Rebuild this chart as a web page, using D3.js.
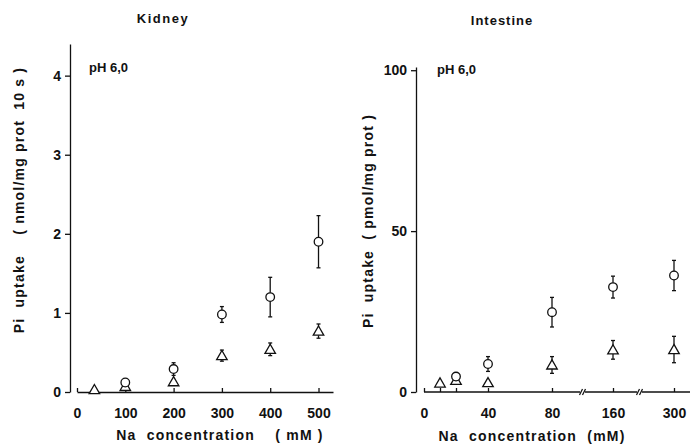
<!DOCTYPE html>
<html>
<head>
<script src="https://d3js.org/d3.v7.min.js"></script>
<style>
  body { margin: 0; background: #fff; }
  svg text { font-family: "Liberation Sans", Arial, sans-serif; font-weight: bold; fill: #111; white-space: pre; }
</style>
</head>
<body>
<svg id="chart" width="690" height="446"></svg>
<script>
// Kidney, pH 6.0  (nmol/mg prot 10 s)
const kidneyCircX = [100, 200, 300, 400, 500];
const kidneyCircY = [0.12, 0.29, 0.98, 1.20, 1.90];
const kidneyCircErr = [0.04, 0.08, 0.10, 0.25, 0.33];
const kidneyTriX = [36, 100, 200, 300, 400, 500];
const kidneyTriY = [0.03, 0.07, 0.13, 0.46, 0.54, 0.77];
const kidneyTriErr = [0, 0.03, 0, 0.07, 0.08, 0.09];
const kidneyXTicks = [0, 100, 200, 300, 400, 500];
const kidneyYTicks = [0, 1, 2, 3, 4];

// Intestine, pH 6.0  (pmol/mg prot)
const intCircX = [20, 40, 80, 160, 300];
const intCircY = [4.8, 8.7, 24.8, 32.6, 36.2];
const intCircErr = [1.0, 2.3, 4.6, 3.4, 4.7];
const intTriX = [10, 20, 40, 80, 160, 300];
const intTriY = [2.8, 3.6, 2.9, 8.4, 13.1, 13.2];
const intTriErr = [0.6, 1.0, 0, 2.6, 2.9, 4.1];
const intXTicks = [0, 10, 20, 40, 80, 160, 300];
const intXLabels = [0, 40, 80, 160, 300];
const intYTicks = [0, 50, 100];

const svg = d3.select('#chart');

function drawPoints(g, x, y, xs, ys, errs, kind) {
  const pts = xs.map((v, i) => ({x: v, y: ys[i], e: errs[i]}));
  const eb = g.append('g').attr('stroke', '#111').attr('stroke-width', 1.3);
  pts.filter(d => d.e > 0).forEach(d => {
    eb.append('line').attr('x1', x(d.x)).attr('x2', x(d.x)).attr('y1', y(d.y + d.e)).attr('y2', y(d.y - d.e));
    eb.append('line').attr('x1', x(d.x) - 2).attr('x2', x(d.x) + 2).attr('y1', y(d.y + d.e)).attr('y2', y(d.y + d.e));
    eb.append('line').attr('x1', x(d.x) - 2).attr('x2', x(d.x) + 2).attr('y1', y(d.y - d.e)).attr('y2', y(d.y - d.e));
  });
  if (kind === 'circle') {
    g.append('g').selectAll('circle').data(pts).join('circle')
      .attr('cx', d => x(d.x)).attr('cy', d => y(d.y)).attr('r', 4.3)
      .attr('fill', '#fff').attr('stroke', '#111').attr('stroke-width', 1.3);
  } else {
    g.append('g').selectAll('path').data(pts).join('path')
      .attr('d', d3.symbol(d3.symbolTriangle, 48))
      .attr('transform', d => `translate(${x(d.x)},${y(d.y) + 1})`)
      .attr('fill', '#fff').attr('stroke', '#111').attr('stroke-width', 1.3);
  }
}

function styleAxis(g) {
  g.selectAll('path, line').attr('stroke', '#111').attr('stroke-width', 1.3);
  g.selectAll('text').attr('font-size', 14).attr('fill', '#111')
    .attr('font-family', '"Liberation Sans", Arial, sans-serif').attr('font-weight', 'bold');
}

// ---------- Kidney ----------
{
  const x = d3.scaleLinear().domain([0, 530]).range([77, 333]);
  const y = d3.scaleLinear().domain([0, 4.4]).range([392, 44]);
  const g = svg.append('g');

  g.append('g').attr('transform', 'translate(70,0)')
    .call(d3.axisLeft(y).tickValues(kidneyYTicks).tickSizeInner(5).tickSizeOuter(0).tickPadding(4).tickFormat(d3.format('d')))
    .call(styleAxis);

  g.append('g').attr('transform', 'translate(0,392)')
    .call(d3.axisBottom(x).tickValues(kidneyXTicks).tickSizeInner(-4).tickSizeOuter(0).tickPadding(16))
    .call(styleAxis);

  drawPoints(g, x, y, kidneyTriX, kidneyTriY, kidneyTriErr, 'triangle');
  drawPoints(g, x, y, kidneyCircX, kidneyCircY, kidneyCircErr, 'circle');

  g.append('text').attr('x', 163).attr('y', 23).attr('text-anchor', 'middle')
    .attr('font-size', 13).attr('letter-spacing', 1.5).text('Kidney');
  g.append('text').attr('x', 89).attr('y', 72).attr('font-size', 13).text('pH 6,0');
  g.append('text').attr('transform', 'translate(24,200) rotate(-90)').attr('text-anchor', 'middle')
    .attr('font-size', 14).attr('letter-spacing', 1.2).text('Pi  uptake    ( nmol/mg prot  10 s )');
  g.append('text').attr('x', 220).attr('y', 440).attr('text-anchor', 'middle')
    .attr('font-size', 14).attr('letter-spacing', 1.2).text('Na  concentration    ( mM )');
}

// ---------- Intestine ----------
{
  // piecewise scale with axis breaks between 80-160 and 160-300
  const x = d3.scaleLinear().domain([0, 80, 160, 300, 345]).range([424, 552, 613, 674, 690]);
  const y = d3.scaleLinear().domain([0, 101]).range([392, 67]);
  const g = svg.append('g');

  g.append('g').attr('transform', 'translate(416,0)')
    .call(d3.axisLeft(y).tickValues(intYTicks).tickSizeInner(5).tickSizeOuter(0).tickPadding(4))
    .call(styleAxis);

  const xa = g.append('g').attr('transform', 'translate(0,392)')
    .call(d3.axisBottom(x).tickValues(intXTicks).tickSizeInner(-4).tickSizeOuter(0).tickPadding(16)
      .tickFormat(d => intXLabels.includes(d) ? d : ''))
    .call(styleAxis);
  xa.select('.domain').remove();
  const segs = [[424, 580], [585, 637], [642, 690]];
  xa.selectAll('line.seg').data(segs).join('line').attr('class', 'seg')
    .attr('x1', d => d[0]).attr('x2', d => d[1]).attr('y1', 0).attr('y2', 0)
    .attr('stroke', '#111').attr('stroke-width', 1.3);
  const breaks = [581, 584, 638, 641];
  xa.selectAll('line.brk').data(breaks).join('line').attr('class', 'brk')
    .attr('x1', d => d - 1.5).attr('x2', d => d + 1.5).attr('y1', 3).attr('y2', -3)
    .attr('stroke', '#111').attr('stroke-width', 1.2);

  drawPoints(g, x, y, intTriX, intTriY, intTriErr, 'triangle');
  drawPoints(g, x, y, intCircX, intCircY, intCircErr, 'circle');

  g.append('text').attr('x', 502).attr('y', 25).attr('text-anchor', 'middle')
    .attr('font-size', 13).attr('letter-spacing', 1).text('Intestine');
  g.append('text').attr('x', 437).attr('y', 74).attr('font-size', 13).text('pH 6,0');
  g.append('text').attr('transform', 'translate(373,221) rotate(-90)').attr('text-anchor', 'middle')
    .attr('font-size', 14).attr('letter-spacing', 1.2).text('Pi  uptake  ( pmol/mg prot )');
  g.append('text').attr('x', 532).attr('y', 441).attr('text-anchor', 'middle')
    .attr('font-size', 14).attr('letter-spacing', 1.2).text('Na  concentration  (mM)');
}
</script>
</body>
</html>
